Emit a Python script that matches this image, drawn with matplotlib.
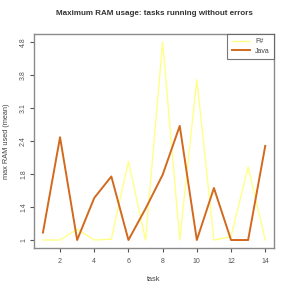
import numpy as np
import matplotlib
matplotlib.use('Agg')
import matplotlib.pyplot as plt

plt.rcParams['font.family'] = ['Liberation Sans', 'DejaVu Sans']

tasks = list(range(1, 15))
fsharp = [1.0, 1.0, 1.13, 1.0, 1.01, 2.03, 1.0, 4.8, 1.0, 3.7, 1.0, 1.04, 1.93, 1.0]
java = [1.09, 2.48, 1.0, 1.51, 1.77, 1.0, 1.38, 1.79, 2.72, 1.0, 1.63, 1.0, 1.0, 2.31]
ytick_vals = [1, 1.4, 1.8, 2.4, 3.1, 3.8, 4.8]
ytick_labels = ['1', '1.4', '1.8', '2.4', '3.1', '3.8', '4.8']

idx = np.arange(len(ytick_vals), dtype=float)


def _lin(v, xs, ys):
    # piecewise linear map, extended linearly past both ends
    v = np.asarray(v, dtype=float)
    xs = np.asarray(xs, dtype=float)
    ys = np.asarray(ys, dtype=float)
    out = np.interp(v, xs, ys)
    out = np.where(v < xs[0], ys[0] + (v - xs[0]) * (ys[1] - ys[0]) / (xs[1] - xs[0]), out)
    out = np.where(v > xs[-1], ys[-1] + (v - xs[-1]) * (ys[-1] - ys[-2]) / (xs[-1] - xs[-2]), out)
    return out


def fwd(v):
    return _lin(v, ytick_vals, idx)


def inv(v):
    return _lin(v, idx, ytick_vals)


fig = plt.figure(figsize=(2.91, 2.91), dpi=100)
ax = fig.add_axes([0.117, 0.148, 0.825, 0.735])

ax.plot(tasks, fsharp, color='#FFFF88', lw=1.0, label='F#')
ax.plot(tasks, java, color='#D2691E', lw=1.4, label='Java')

ax.set_yscale('function', functions=(fwd, inv))
ax.set_xlim(0.48, 14.52)
ax.set_ylim(inv(-0.24), inv(6.24))
ax.set_yticks(ytick_vals)
ax.set_yticklabels(ytick_labels, rotation=90, va='center')
ax.minorticks_off()
ax.set_xticks(range(2, 15, 2))

for s in ax.spines.values():
    s.set_color('#8a8a8a')
    s.set_linewidth(1.0)
ax.tick_params(colors='#555555', labelsize=5, length=3, width=0.8, direction='out', pad=2)
ax.tick_params(axis='x', pad=4)

ax.set_title('Maximum RAM usage: tasks running without errors', fontsize=5.8,
             fontweight='bold', color='#333333', pad=14)
ax.set_xlabel('task', fontsize=5.3, color='#444444', labelpad=8)
ax.set_ylabel('max RAM used (mean)', fontsize=5.3, color='#444444', labelpad=7)

leg = ax.legend(loc='upper right', fontsize=5, frameon=True, fancybox=False,
                borderaxespad=0, handlelength=2.6, borderpad=0.6, labelspacing=0.35,
                handletextpad=0.8)
leg.get_frame().set_edgecolor('#555555')
leg.get_frame().set_linewidth(0.8)
for t in leg.get_texts():
    t.set_color('#444444')

fig.savefig('out.png', dpi=100)
